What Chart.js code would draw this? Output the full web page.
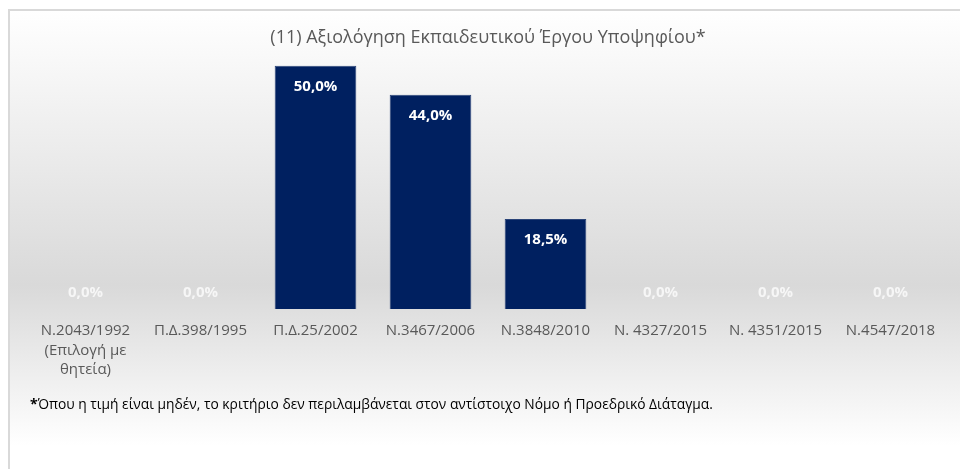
<!DOCTYPE html>
<html>
<head>
<meta charset="utf-8">
<script src="https://cdn.jsdelivr.net/npm/chart.js@4/dist/chart.umd.min.js"></script>
<style>
  html, body { margin: 0; padding: 0; background: #fff; }
  #wrap { position: relative; width: 960px; height: 469px; }
</style>
</head>
<body>
<div id="wrap"><canvas id="myChart" width="960" height="469"></canvas></div>
<script>
// data
const laws = [
    ['N.2043/1992', '(Επιλογή με', 'θητεία)'],
    'Π.Δ.398/1995',
    'Π.Δ.25/2002',
    'N.3467/2006',
    'N.3848/2010',
    'N. 4327/2015',
    'N. 4351/2015',
    'N.4547/2018'
];
const percents = [0, 0, 50.0, 44.0, 18.5, 0, 0, 0];
const chartTitle = '(11) Αξιολόγηση Εκπαιδευτικού Έργου Υποψηφίου*';
const footNote = 'Όπου η τιμή είναι μηδέν, το κριτήριο δεν περιλαμβάνεται στον αντίστοιχο Νόμο ή Προεδρικό Διάταγμα.';

const fontFam = '"Open Sans", "Noto Sans", sans-serif';

// frame + grey gradient behind the chart
const backdrop = {
    id: 'backdrop',
    beforeDraw(chart) {
        const c = chart.ctx;
        c.save();
        const g = c.createLinearGradient(0, 10, 0, 469);
        g.addColorStop(0, '#ffffff');
        g.addColorStop(0.6, '#d9d9d9');
        g.addColorStop(0.95, '#ffffff');
        g.addColorStop(1, '#ffffff');
        c.fillStyle = g;
        c.fillRect(9, 10, 960, 469);
        c.strokeStyle = '#d9d9d9';
        c.lineWidth = 2;
        c.beginPath();
        c.moveTo(9, 480);
        c.lineTo(9, 10);
        c.lineTo(960, 10);
        c.stroke();
        c.restore();
    },
    afterDraw(chart) {
        const c = chart.ctx;
        const meta = chart.getDatasetMeta(0);
        c.save();
        c.textAlign = 'center';
        c.textBaseline = 'middle';
        c.font = 'bold 15px ' + fontFam;
        meta.data.forEach(function(bar, i) {
            const v = percents[i];
            const txt = v.toFixed(1).replace('.', ',') + '%';
            if (v > 0) {
                c.fillStyle = '#ffffff';
                c.fillText(txt, bar.x, bar.y + 21);
            } else {
                c.fillStyle = 'rgba(255,255,255,0.75)';
                c.fillText(txt, bar.x, bar.y - 16);
            }
        });
        // footnote
        c.textAlign = 'left';
        c.fillStyle = '#000000';
        c.font = 'bold 14px ' + fontFam;
        c.fillText('*', 30, 405);
        const w = c.measureText('*').width;
        c.font = '13.8px ' + fontFam;
        c.fillText(footNote, 30 + w, 405);
        c.restore();
    }
};

const ctx = document.getElementById('myChart').getContext('2d');
const myChart = new Chart(ctx, {
    type: 'bar',
    data: {
        labels: laws,
        datasets: [{
            label: 'Αξιολόγηση',
            data: percents,
            backgroundColor: '#002060',
            borderColor: '#2a4478',
            borderWidth: 1,
            categoryPercentage: 1,
            barPercentage: 0.71
        }]
    },
    options: {
        responsive: false,
        animation: false,
        layout: {
            padding: { left: 28, right: 12, top: 0, bottom: 0 }
        },
        plugins: {
            legend: { display: false },
            tooltip: { enabled: false },
            title: {
                display: true,
                text: chartTitle,
                color: '#595959',
                font: { size: 18, family: fontFam, weight: 'normal' },
                padding: { top: 27, bottom: 0 }
            }
        },
        scales: {
            x: {
                grid: { display: false, drawTicks: false },
                border: { display: false },
                ticks: {
                    color: '#595959',
                    font: { size: 15, family: fontFam, lineHeight: 1.3 },
                    padding: 12,
                    maxRotation: 0,
                    autoSkip: false
                },
                afterFit: function(s) { s.height = 160; }
            },
            y: {
                display: false,
                min: 0,
                max: 53.5
            }
        }
    },
    plugins: [backdrop]
});
</script>
</body>
</html>
